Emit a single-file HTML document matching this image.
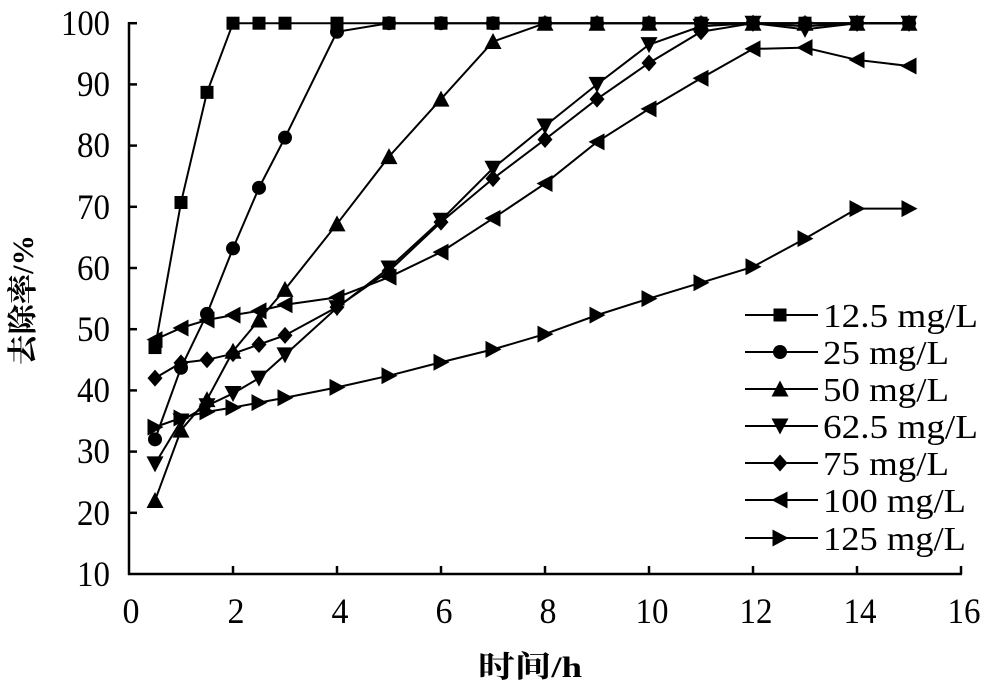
<!DOCTYPE html>
<html><head><meta charset="utf-8"><style>
html,body{margin:0;padding:0;background:#fff;width:1000px;height:692px;overflow:hidden}
svg{display:block}
text{font-family:"Liberation Serif","Noto Serif CJK SC",serif;fill:#000}
</style></head><body>
<svg id="s" width="1000" height="692" viewBox="0 0 1000 692" xmlns="http://www.w3.org/2000/svg">
<g stroke="#000" stroke-width="2.5" fill="none">
<line x1="129" y1="22" x2="129" y2="575"/>
<line x1="128" y1="574" x2="962" y2="574"/>
</g>
<g id="ticks" stroke="#000" stroke-width="2.5"></g>
<g font-size="36" text-anchor="end">
<text x="110" y="35" textLength="49" lengthAdjust="spacingAndGlyphs">100</text>
<text x="110" y="96" textLength="33" lengthAdjust="spacingAndGlyphs">90</text>
<text x="110" y="157" textLength="33" lengthAdjust="spacingAndGlyphs">80</text>
<text x="110" y="219" textLength="33" lengthAdjust="spacingAndGlyphs">70</text>
<text x="110" y="280" textLength="33" lengthAdjust="spacingAndGlyphs">60</text>
<text x="110" y="341" textLength="33" lengthAdjust="spacingAndGlyphs">50</text>
<text x="110" y="402" textLength="33" lengthAdjust="spacingAndGlyphs">40</text>
<text x="110" y="463" textLength="33" lengthAdjust="spacingAndGlyphs">30</text>
<text x="110" y="525" textLength="33" lengthAdjust="spacingAndGlyphs">20</text>
<text x="110" y="586" textLength="33" lengthAdjust="spacingAndGlyphs">10</text>
</g>
<g font-size="36" text-anchor="middle">
<text x="131" y="623" textLength="17" lengthAdjust="spacingAndGlyphs">0</text>
<text x="236" y="623" textLength="17" lengthAdjust="spacingAndGlyphs">2</text>
<text x="340" y="623" textLength="17" lengthAdjust="spacingAndGlyphs">4</text>
<text x="444" y="623" textLength="17" lengthAdjust="spacingAndGlyphs">6</text>
<text x="548" y="623" textLength="17" lengthAdjust="spacingAndGlyphs">8</text>
<text x="652" y="623" textLength="33" lengthAdjust="spacingAndGlyphs">10</text>
<text x="756" y="623" textLength="33" lengthAdjust="spacingAndGlyphs">12</text>
<text x="860" y="623" textLength="33" lengthAdjust="spacingAndGlyphs">14</text>
<text x="964" y="623" textLength="33" lengthAdjust="spacingAndGlyphs">16</text>
</g>
<text x="530" y="677" font-size="30" text-anchor="middle" font-weight="bold" textLength="104" lengthAdjust="spacingAndGlyphs">时间/h</text>
<text transform="translate(33,300) rotate(-90)" font-size="30" text-anchor="middle" font-weight="bold" textLength="130" lengthAdjust="spacingAndGlyphs">去除率/%</text>
<g id="series"></g>
<g id="legend"></g>
<g font-size="34">
<text x="823" y="327" textLength="155" lengthAdjust="spacingAndGlyphs">12.5 mg/L</text>
<text x="823" y="364" textLength="126" lengthAdjust="spacingAndGlyphs">25 mg/L</text>
<text x="823" y="401" textLength="126" lengthAdjust="spacingAndGlyphs">50 mg/L</text>
<text x="823" y="438" textLength="155" lengthAdjust="spacingAndGlyphs">62.5 mg/L</text>
<text x="823" y="475" textLength="126" lengthAdjust="spacingAndGlyphs">75 mg/L</text>
<text x="823" y="512" textLength="143" lengthAdjust="spacingAndGlyphs">100 mg/L</text>
<text x="823" y="550" textLength="143" lengthAdjust="spacingAndGlyphs">125 mg/L</text>
</g>
</svg>
<script>
function X(t){return 129+t*52}
function Y(v){return 574-(v-10)*6.12}
var tk=document.getElementById('ticks'),h='';
for(var v=20;v<=100;v+=10)h+='<line x1="129" x2="137" y1="'+Y(v)+'" y2="'+Y(v)+'"/>';
for(var t=2;t<=16;t+=2)h+='<line y1="574" y2="566" x1="'+X(t)+'" x2="'+X(t)+'"/>';
tk.innerHTML=h;
var T=[0.5,1,1.5,2,2.5,3,4,5,6,7,8,9,10,11,12,13,14,15];
var D=[
[47,70.7,88.7,100,100,100,100,100,100,100,100,100,100,100,100,100,100,100],
[32,43.7,52.5,63.2,73.1,81.3,98.6,100,100,100,100,100,100,100,100,100,100,100],
[22,33.5,38.5,46.4,51.5,56.5,67.2,78.2,87.6,97,100,100,100,100,100,100,100,100],
[28,35,37.5,39.5,42,45.8,53.5,60,67.8,76.3,83.2,90,96.5,99.5,100,99,100,100],
[42,44.5,45,46,47.5,49,53.6,59.5,67.5,74.6,81,87.6,93.5,98.6,100,99.5,100,100],
[48.3,50.2,51.5,52.3,53,54,55.2,58.5,62.6,68.1,73.8,80.6,86,91,95.8,96,94,93],
[34,35.5,36.5,37.2,38,38.8,40.5,42.4,44.6,46.7,49.2,52.3,55,57.6,60.2,64.8,69.7,69.7]];
function mk(k,x,y){var s=7.5;
switch(k){
case 0:return '<rect x="'+(x-6.5)+'" y="'+(y-6.5)+'" width="13" height="13"/>';
case 1:return '<circle cx="'+x+'" cy="'+y+'" r="7"/>';
case 2:return '<polygon points="'+x+','+(y-s-1)+' '+(x+s+1)+','+(y+s)+' '+(x-s-1)+','+(y+s)+'"/>';
case 3:return '<polygon points="'+x+','+(y+s+1)+' '+(x+s+1)+','+(y-s)+' '+(x-s-1)+','+(y-s)+'"/>';
case 4:return '<polygon points="'+x+','+(y-s-1)+' '+(x+s)+','+y+' '+x+','+(y+s+1)+' '+(x-s)+','+y+'"/>';
case 5:return '<polygon points="'+(x-s-1)+','+y+' '+(x+s)+','+(y-s-1)+' '+(x+s)+','+(y+s+1)+'"/>';
case 6:return '<polygon points="'+(x+s+1)+','+y+' '+(x-s)+','+(y-s-1)+' '+(x-s)+','+(y+s+1)+'"/>';
}}
var g='';
for(var k=0;k<7;k++){var p=[];for(var i=0;i<T.length;i++)p.push(X(T[i])+','+Y(D[k][i]));
g+='<polyline points="'+p.join(' ')+'" fill="none" stroke="#000" stroke-width="2"/>';}
for(var k=0;k<7;k++){for(var i=0;i<T.length;i++)g+=mk(k,X(T[i]),Y(D[k][i]));}
document.getElementById('series').innerHTML='<g fill="#000">'+g+'</g>';
var L='',ys=[315,352,389,426,463,500,538];
for(var k=0;k<7;k++){L+='<line x1="745" x2="818" y1="'+ys[k]+'" y2="'+ys[k]+'" stroke="#000" stroke-width="2"/>'+mk(k,780,ys[k]);}
document.getElementById('legend').innerHTML='<g fill="#000">'+L+'</g>';
</script>
</body></html>
